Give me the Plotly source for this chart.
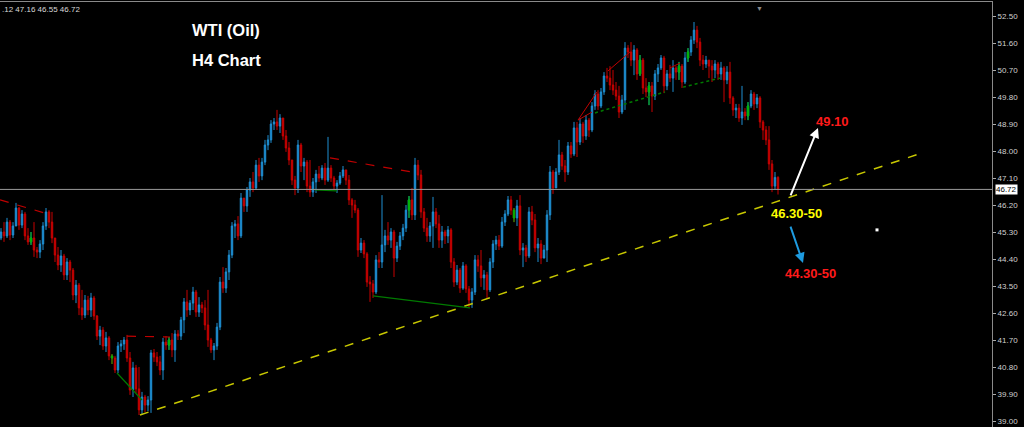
import plotly.graph_objects as go

# ---------------- data (WTI H4) ----------------
first_open = 45.10
highs = [
    45.43, 45.63, 45.77, 45.70, 45.63, 46.27, 46.13, 46.03, 45.97, 45.43,
    45.30, 45.63, 44.80, 45.03, 45.63, 46.10, 46.03, 45.97, 45.10, 44.80,
    44.70, 44.57, 44.43, 44.37, 44.10, 43.70, 43.60, 43.37, 43.20, 43.17,
    43.27, 43.17, 42.53, 42.17, 42.13, 41.97, 41.83, 41.23, 41.17, 41.63,
    41.70, 41.80, 41.87, 41.30, 40.97, 40.87, 40.80, 39.97, 39.87, 39.83,
    41.37, 41.40, 41.30, 41.17, 41.77, 41.83, 41.80, 41.93, 42.03, 42.03,
    42.47, 43.10, 43.37, 43.03, 43.47, 43.37, 43.13, 42.97, 43.03, 43.37,
    41.77, 41.60, 42.27, 43.80, 44.13, 44.10, 44.70, 45.63, 45.70, 45.83,
    46.60, 46.43, 46.80, 47.10, 47.30, 47.70, 47.77, 47.77, 48.37, 48.53,
    49.03, 49.10, 49.37, 49.23, 49.03, 48.70, 48.30, 47.70, 47.17, 48.37,
    48.27, 47.77, 47.70, 47.70, 47.10, 47.37, 47.50, 47.53, 47.60, 48.47,
    47.53, 47.17, 47.03, 47.30, 47.50, 47.37, 47.20, 46.43, 46.37, 46.10,
    45.10, 45.03, 44.63, 43.83, 43.70, 44.53, 44.63, 46.53, 45.37, 45.63,
    45.43, 45.37, 44.97, 45.30, 45.57, 46.20, 46.50, 46.77, 47.77, 47.70,
    47.37, 46.10, 45.77, 45.63, 46.47, 46.10, 45.87, 45.50, 45.37, 45.50,
    45.43, 44.43, 44.20, 44.10, 44.30, 44.23, 43.50, 43.43, 44.53, 44.53,
    44.70, 44.03, 43.97, 44.43, 45.03, 45.17, 45.20, 45.80, 46.03, 46.50,
    46.50, 46.10, 46.37, 46.53, 44.93, 44.87, 46.13, 46.17, 45.90, 45.10,
    45.03, 44.87, 46.03, 47.50, 47.37, 47.43, 48.37, 47.97, 47.70, 48.30,
    48.30, 48.97, 48.97, 49.10, 48.97, 49.20, 49.10, 49.63, 50.03, 50.03,
    50.10, 50.63, 50.77, 50.83, 50.70, 50.30, 50.17, 49.87, 51.63, 51.53,
    51.63, 51.53, 51.43, 51.20, 51.10, 50.43, 50.30, 50.30, 50.70, 50.90,
    51.20, 51.17, 50.70, 50.87, 51.03, 50.83, 50.97, 50.90, 51.30, 51.43,
    51.83, 52.30, 52.17, 51.77, 51.20, 51.17, 51.03, 51.03, 51.03, 50.97,
    50.97, 50.83, 50.83, 50.97, 49.83, 49.57, 49.57, 50.17, 49.43, 49.63,
    50.03, 49.97, 49.90, 49.83, 49.03, 48.83, 48.83, 47.70, 47.30, 47.16,
]
lows = [
    45.03, 44.97, 45.10, 45.03, 45.10, 45.50, 45.37, 45.43, 45.03, 44.87,
    44.87, 44.47, 44.43, 44.43, 44.70, 45.37, 45.43, 44.93, 44.30, 44.03,
    43.97, 43.70, 43.70, 43.63, 43.03, 42.93, 42.53, 42.37, 42.43, 42.53,
    42.47, 42.37, 41.70, 41.53, 41.37, 41.30, 41.03, 40.90, 40.60, 40.60,
    41.30, 41.37, 40.97, 39.87, 39.80, 39.93, 39.20, 39.20, 39.30, 39.33,
    39.27, 40.97, 40.83, 40.53, 40.37, 41.37, 41.37, 41.13, 40.97, 41.70,
    41.70, 41.93, 42.47, 42.53, 42.70, 42.47, 42.47, 42.60, 42.03, 41.47,
    41.27, 41.03, 41.37, 42.03, 43.27, 43.27, 43.70, 44.43, 45.10, 45.03,
    45.10, 45.97, 45.97, 46.47, 46.63, 46.70, 46.97, 47.03, 47.53, 48.03,
    48.27, 48.70, 48.70, 48.60, 48.37, 47.97, 47.53, 46.87, 46.53, 46.60,
    47.30, 47.03, 46.63, 46.47, 46.47, 46.60, 46.97, 47.03, 46.87, 46.97,
    46.97, 46.70, 46.60, 46.87, 47.10, 46.87, 46.20, 45.77, 45.93, 44.47,
    44.60, 44.43, 43.47, 42.97, 43.10, 43.23, 44.10, 44.10, 44.63, 44.87,
    44.77, 43.80, 44.30, 44.70, 45.03, 45.30, 45.77, 45.70, 45.70, 47.03,
    45.77, 45.30, 44.97, 44.97, 44.77, 45.43, 44.77, 44.77, 44.90, 44.93,
    44.10, 43.47, 43.53, 43.27, 43.37, 43.27, 42.80, 42.77, 43.20, 43.97,
    43.47, 43.37, 43.10, 43.30, 44.10, 44.70, 44.70, 44.77, 45.50, 45.83,
    45.87, 45.63, 45.50, 44.53, 44.13, 44.30, 44.43, 45.53, 44.63, 44.30,
    44.23, 44.50, 44.30, 45.70, 46.57, 46.77, 47.20, 47.37, 46.97, 47.20,
    47.77, 47.83, 47.80, 48.20, 48.27, 48.37, 48.47, 48.63, 49.37, 49.37,
    49.43, 49.87, 50.30, 50.03, 49.87, 49.70, 49.10, 49.23, 49.37, 51.10,
    50.83, 50.53, 50.37, 50.50, 49.90, 49.80, 49.53, 49.30, 49.70, 50.30,
    50.70, 49.93, 50.03, 50.30, 49.97, 50.37, 50.37, 50.10, 50.23, 50.97,
    51.17, 51.57, 51.43, 50.83, 50.70, 50.77, 50.43, 50.30, 50.43, 50.37,
    50.37, 49.63, 50.23, 49.57, 49.17, 49.10, 48.97, 48.87, 49.03, 49.03,
    49.43, 49.37, 49.43, 48.77, 48.37, 48.20, 47.37, 46.63, 46.70, 46.55,
]
closes = [
    45.30, 45.17, 45.63, 45.20, 45.50, 46.10, 45.53, 45.90, 45.17, 44.97,
    45.10, 44.70, 44.63, 44.90, 45.50, 45.97, 45.63, 45.10, 44.53, 44.20,
    44.50, 43.87, 44.30, 44.03, 43.20, 43.53, 42.77, 42.53, 43.03, 42.70,
    43.10, 42.50, 41.83, 42.03, 41.50, 41.77, 41.17, 41.10, 40.70, 41.50,
    41.57, 41.70, 41.10, 40.03, 40.77, 40.07, 39.37, 39.80, 39.53, 39.70,
    41.27, 41.13, 40.97, 40.70, 41.63, 41.53, 41.70, 41.37, 41.90, 41.83,
    42.37, 42.97, 42.70, 42.93, 43.30, 42.63, 42.87, 42.77, 42.20, 41.70,
    41.37, 41.50, 42.13, 43.63, 43.43, 43.97, 44.53, 45.50, 45.57, 45.17,
    46.43, 46.17, 46.70, 46.97, 46.77, 47.53, 47.17, 47.63, 48.20, 48.37,
    48.90, 48.97, 48.83, 49.10, 48.50, 48.10, 47.70, 47.03, 46.77, 48.20,
    47.50, 47.63, 46.83, 46.63, 46.97, 47.23, 47.10, 47.43, 47.03, 47.43,
    47.10, 46.83, 46.93, 47.17, 47.37, 47.03, 46.37, 46.20, 46.03, 44.70,
    44.93, 44.57, 43.63, 43.57, 43.30, 44.37, 44.30, 44.87, 45.17, 45.03,
    45.30, 44.43, 44.83, 45.17, 45.43, 46.03, 46.37, 45.87, 47.53, 47.20,
    45.97, 45.43, 45.17, 45.50, 45.97, 45.57, 45.03, 45.30, 45.17, 45.37,
    44.30, 43.63, 44.03, 43.43, 44.17, 43.40, 43.03, 43.30, 44.37, 44.17,
    43.77, 43.87, 43.37, 44.30, 44.90, 45.03, 44.83, 45.63, 45.90, 46.37,
    46.03, 45.77, 46.17, 44.70, 44.77, 44.50, 45.97, 45.70, 44.77, 44.90,
    44.43, 44.70, 45.87, 47.30, 46.77, 47.30, 47.87, 47.50, 47.30, 48.17,
    47.90, 48.77, 48.30, 48.90, 48.50, 49.03, 48.70, 49.50, 49.90, 49.50,
    49.97, 50.50, 50.43, 50.20, 50.03, 49.83, 49.30, 49.70, 51.43, 51.30,
    51.03, 51.37, 50.57, 51.03, 50.10, 49.97, 50.17, 49.83, 50.57, 50.77,
    51.10, 50.17, 50.57, 50.43, 50.77, 50.63, 50.83, 50.30, 51.10, 51.30,
    51.70, 52.03, 51.63, 51.03, 50.90, 51.03, 50.83, 50.70, 50.90, 50.57,
    50.77, 50.37, 50.63, 49.77, 49.37, 49.43, 49.10, 49.30, 49.17, 49.50,
    49.90, 49.57, 49.77, 48.97, 48.70, 48.37, 47.57, 46.83, 47.12, 46.72,
]
green_bars = [10, 37, 56, 136, 171, 213, 216, 226, 229, 249]

# drawn objects (bar index, price)
trend_line = ([46.33, 308.0], [39.20, 47.97])
red_dashed = [([-0.33, 14.67], [46.37, 45.93]),
              ([42.0, 56.33], [41.83, 41.80]),
              ([109.67, 137.0], [47.77, 47.30])]
red_solid = [([192.33, 198.67], [49.03, 49.97]),
             ([192.33, 197.0], [49.03, 49.30]),
             ([202.33, 209.67], [50.67, 51.30]),
             ([223.0, 226.33], [50.77, 50.93])]
green_solid = [([38.67, 47.0], [40.60, 39.70]),
               ([104.67, 112.0], [46.70, 46.67]),
               ([124.0, 156.33], [43.17, 42.77])]
green_dotted = [([198.0, 221.33], [49.27, 49.97]),
                ([227.33, 239.67], [50.13, 50.43])]
up_arrow = (263.0, 46.47, 272.33, 48.77)
down_arrow = (263.0, 45.53, 267.33, 44.27)
labels = [("49.10", 277.3, 49.00, "#ff1a1a"),
          ("46.30-50", 265.0, 45.93, "#ffff00"),
          ("44.30-50", 269.7, 43.93, "#ff1a1a")]
y_ticks_start, y_ticks_step = 39.0, 0.9
header_text = ".12 47.16 46.55 46.72"

BLUE = "#1e8fd2"
RED = "#c80000"
GREEN = "#00b400"
FONT = "Liberation Sans, Arial"

idx = list(range(len(closes)))
opens = [first_open] + closes[:-1]

fig = go.Figure()
fig.add_trace(go.Candlestick(
    x=idx, open=opens, high=highs, low=lows, close=closes,
    increasing=dict(line=dict(color=BLUE, width=1), fillcolor=BLUE),
    decreasing=dict(line=dict(color=RED, width=1), fillcolor=RED),
    whiskerwidth=0, hoverinfo="skip"))
fig.add_trace(go.Candlestick(
    x=[idx[i] for i in green_bars], open=[opens[i] for i in green_bars],
    high=[highs[i] for i in green_bars], low=[lows[i] for i in green_bars],
    close=[closes[i] for i in green_bars],
    increasing=dict(line=dict(color=GREEN, width=1), fillcolor=GREEN),
    decreasing=dict(line=dict(color=GREEN, width=1), fillcolor=GREEN),
    whiskerwidth=0, hoverinfo="skip"))

def seg(xs, ys, color, dash, width=1):
    fig.add_trace(go.Scatter(x=xs, y=ys, mode="lines", hoverinfo="skip",
                             line=dict(color=color, dash=dash, width=width)))

seg(trend_line[0], trend_line[1], "#c8c800", "dash", 1.5)
for xs, ys in red_dashed:
    seg(xs, ys, "#c00000", "dash", 1.2)
for xs, ys in red_solid:
    seg(xs, ys, "#c00000", "solid", 1)
for xs, ys in green_solid:
    seg(xs, ys, "#007a00", "solid", 1.2)
for xs, ys in green_dotted:
    seg(xs, ys, "#007a00", "dot", 1.5)

# white dot
fig.add_trace(go.Scatter(x=[292], y=[45.37], mode="markers", hoverinfo="skip",
                         marker=dict(color="white", size=3, symbol="square")))

last = closes[-1]
fig.add_shape(type="line", xref="paper", x0=0, x1=1, yref="y", y0=last, y1=last,
              line=dict(color="#9a9a9a", width=1))

ann = []
for (x0, y0, x1, y1), col in [(up_arrow, "white"), (down_arrow, "#1e9be0")]:
    ann.append(dict(x=x1, y=y1, ax=x0, ay=y0, xref="x", yref="y", axref="x", ayref="y",
                    showarrow=True, arrowhead=2, arrowsize=1, arrowwidth=2,
                    arrowcolor=col, text=""))
for t, x, y, c in labels:
    ann.append(dict(x=x, y=y, xref="x", yref="y", text=f"<b>{t}</b>", showarrow=False,
                    xanchor="center", font=dict(family=FONT, size=13, color=c)))
ann.append(dict(x=0.228, y=0.935, xref="paper", yref="paper", xanchor="center",
                yanchor="middle", text="<b>WTI (Oil)</b>", showarrow=False,
                font=dict(family=FONT, size=16.5, color="white")))
ann.append(dict(x=0.228, y=0.864, xref="paper", yref="paper", xanchor="center",
                yanchor="middle", text="<b>H4 Chart</b>", showarrow=False,
                font=dict(family=FONT, size=16.5, color="white")))
ann.append(dict(x=0, y=1, xref="paper", yref="paper", xanchor="left", yanchor="top",
                yshift=-1, text=header_text, showarrow=False,
                font=dict(family=FONT, size=8, color="#d8d8d8")))
ann.append(dict(x=1, y=last, xref="paper", yref="y", xanchor="left", xshift=3,
                text=f"{last:.2f}", showarrow=False, bgcolor="white", borderpad=0,
                font=dict(family=FONT, size=8, color="black")))
ann.append(dict(x=765 / 992, y=1, xref="paper", yref="paper", yanchor="top", text="▼",
                showarrow=False, font=dict(size=7, color="#8a8a8a")))

fig.update_layout(
    width=1024, height=427,
    margin=dict(l=0, r=32, t=2, b=0),
    paper_bgcolor="black", plot_bgcolor="black",
    showlegend=False, annotations=ann,
    xaxis=dict(range=[-0.333, 330.333], showticklabels=False, showgrid=False,
               zeroline=False, showline=True, mirror=True, linecolor="#8a8a8a",
               ticks="", rangeslider=dict(visible=False), fixedrange=True),
    yaxis=dict(side="right", range=[38.80, 52.967], tick0=y_ticks_start, dtick=y_ticks_step,
               tickformat=".2f", ticks="outside", ticklen=3, tickcolor="#aaaaaa",
               showgrid=False, zeroline=False, showline=True, linecolor="#8a8a8a",
               tickfont=dict(family=FONT, size=8, color="#d0d0d0"),
               fixedrange=True),
)
fig.write_html("out.html", config={"displayModeBar": False},
               post_script="document.body.style.margin='0';document.body.style.background='black';")
